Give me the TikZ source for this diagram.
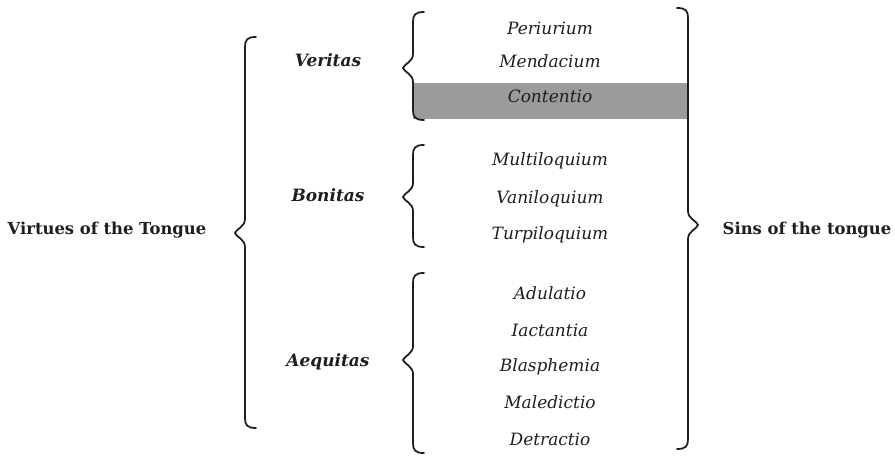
\documentclass[tikz,border=0pt]{standalone}
\usepackage{fontspec}
\setmainfont{DejaVu Serif}
\usepackage{xcolor}
\definecolor{ink}{HTML}{1E1E1E}
\definecolor{boxgray}{HTML}{9B9B9B}
\usepackage{tikz}
\tikzset{sin/.style={font=\fontsize{14.5}{17}\selectfont\itshape,text=ink,anchor=base,inner sep=0pt},
virtue/.style={font=\fontsize{14.5}{17}\selectfont\bfseries\itshape,text=ink,anchor=base,inner sep=0pt},
head/.style={font=\fontsize{14}{17}\selectfont\bfseries,text=ink,anchor=base,inner sep=0pt},
curl/.style={draw=ink,line width=1.5pt,line cap=round}}
% curly brace: #1 spine x, #2 top, #3 tip, #4 bottom, #5 side (1 opens right, -1 opens left)
\newcommand{\curly}[5]{%
\draw[curl] ({#1+(#5)*11},#2) .. controls ({#1+(#5)*2},#2) and (#1,{#2+3}) .. (#1,{#2+10})
  -- (#1,{#3-14}) .. controls (#1,{#3-6}) and ({#1-(#5)*9},{#3-4}) .. ({#1-(#5)*10},#3)
  .. controls ({#1-(#5)*9},{#3+4}) and (#1,{#3+6}) .. (#1,{#3+14})
  -- (#1,{#4-10}) .. controls (#1,{#4-3}) and ({#1+(#5)*2},#4) .. ({#1+(#5)*11},#4);}

\begin{document}
\begin{tikzpicture}[x=0.03cm,y=-0.03cm]
\useasboundingbox (0,0) rectangle (895,458);
\fill[boxgray] (413,83) rectangle (688,119);
\node[head] (virtues) at (107,235) {Virtues of the Tongue};
\node[head] (sins) at (807,235) {Sins of the tongue};
\node[virtue] (veritas) at (328,67) {Veritas};
\node[virtue] (bonitas) at (328,202) {Bonitas};
\node[virtue] (aequitas) at (328,366) {Aequitas};
\foreach \y/\w/\n in {35/Periurium/s1,68/Mendacium/s2,103/Contentio/s3,
  166/Multiloquium/s4,204/Vaniloquium/s5,240/Turpiloquium/s6,
  300/Adulatio/s7,337/Iactantia/s8,371/Blasphemia/s9,408/Maledictio/s10,445/Detractio/s11}
  \node[sin] (\n) at (550,\y) {\w};
\curly{245}{37}{233}{428}{1}
\curly{413}{12}{68}{120}{1}
\curly{413}{145}{197}{247}{1}
\curly{413}{273}{360}{453}{1}
\curly{688}{8}{225}{449}{-1}
\end{tikzpicture}
\end{document}
